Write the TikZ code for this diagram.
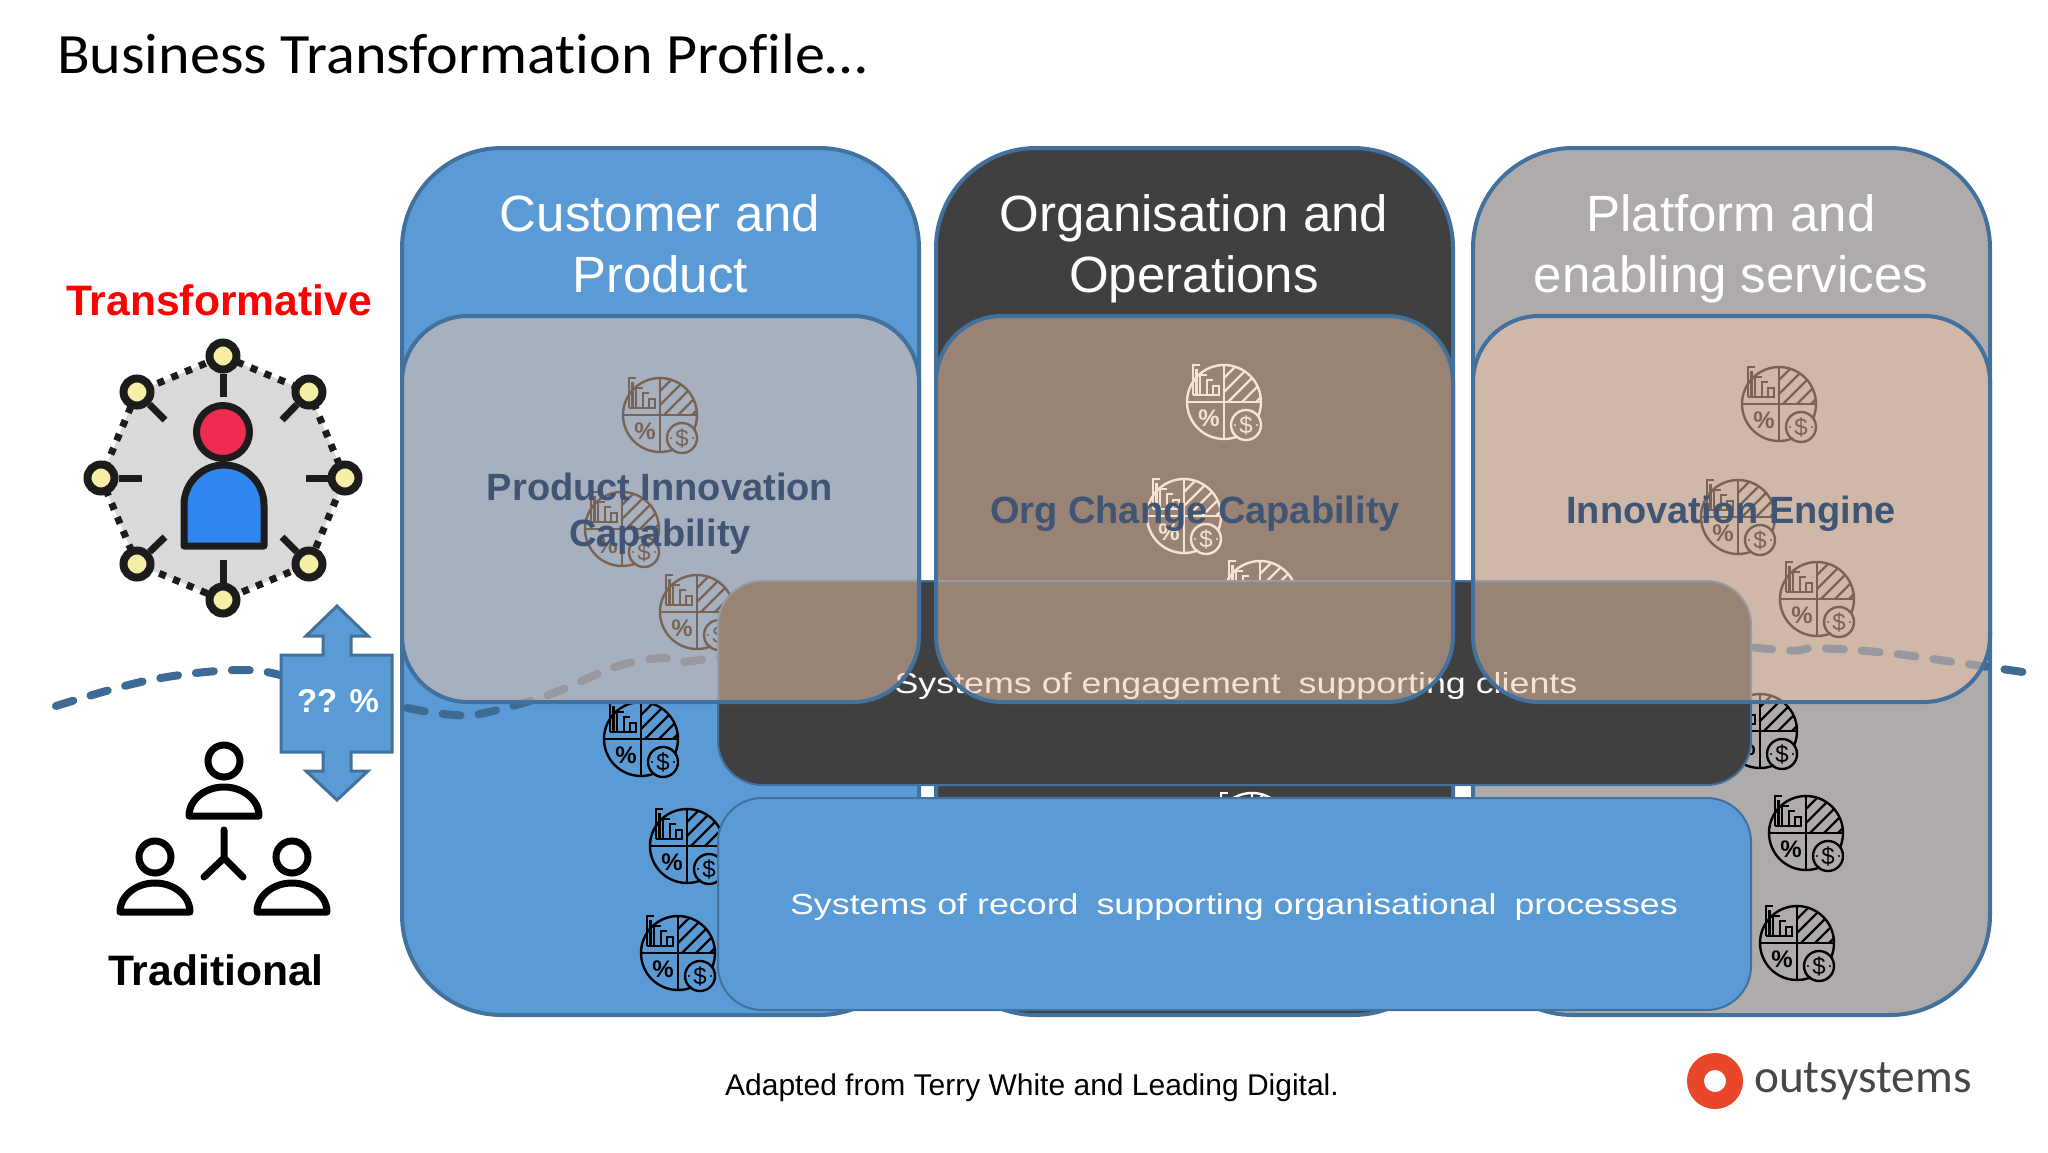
\documentclass[tikz,border=0pt]{standalone}
\usepackage{fontspec}
\setmainfont{Liberation Sans}
\newfontfamily\carlitofont[Ligatures=NoCommon]{Carlito}
\definecolor{colblue}{HTML}{5B9BD5}
\definecolor{coldark}{HTML}{404040}
\definecolor{colgrey}{HTML}{AFABAB}
\definecolor{edgeblue}{HTML}{41719C}
\definecolor{peach}{HTML}{F2C6A8}
\definecolor{labelblue}{HTML}{3F5573}
\definecolor{inkblack}{HTML}{1C1C1C}
\definecolor{hubgrey}{HTML}{DAD8DA}
\definecolor{satyellow}{HTML}{F5EFA5}
\definecolor{headred}{HTML}{EE2B50}
\definecolor{bodyblue}{HTML}{2E86EE}
\definecolor{logored}{HTML}{E8472A}
\tikzset{
  colbox/.style={shape=rectangle, rounded corners=100pt, draw=edgeblue, line width=4pt, inner sep=0pt, minimum width=517pt, minimum height=867pt},
  topbox/.style={shape=rectangle, rounded corners=66pt, draw=edgeblue, line width=4pt, fill=peach, fill opacity=0.5, inner sep=0pt, minimum width=517pt, minimum height=386pt},
  toplabel/.style={align=center, text=labelblue, font=\fontsize{38}{46}\selectfont\bfseries},
  midbox/.style={shape=rectangle, rounded corners=44pt, draw=edgeblue, line width=2pt, inner sep=0pt, minimum width=1033pt},
  midlabel/.style={text=white, font=\fontsize{29}{35}\selectfont},
  coltitle/.style={align=center, text=white, font=\fontsize{51}{61}\selectfont},
  sidetitle/.style={font=\fontsize{42.6}{50}\selectfont\bfseries},
  sat/.style={shape=circle, draw=inkblack, line width=8pt, fill=satyellow, minimum size=27pt, inner sep=0pt},
  spoke/.style={draw=inkblack, line width=7pt},
  wave/.style={draw=edgeblue!95!black, line width=8pt, line cap=round, dash pattern=on 18pt off 18pt},
  pics/budget/.style={code={
    \draw[#1, line width=2.4pt] (68:37) arc (68:382:37);
    \draw[#1, line width=2.4pt] (-37,0) -- (37,0) (0,-37) -- (0,37);
    \draw[#1, line width=2.4pt] (22,23) circle (15);
    \begin{scope}
      \clip (0,0) -- (37,0) arc (360:270:37) -- cycle;
      \draw[#1, line width=2.2pt] (-2,-8) -- +(40,-40) (-2,6) -- +(40,-40) (-2,-22) -- +(40,-40) (12,6) -- +(40,-40) (26,6) -- +(40,-40);
    \end{scope}
    \draw[#1, line width=2.4pt] (-31,-7) -- (-5,-7) -- (-5,-16) -- (-11,-16) -- (-11,-7) (-11,-22) -- (-17,-22) -- (-17,-7) (-17,-27) -- (-24,-27) -- (-24,-7) (-24,-37) -- (-31,-37) -- (-31,-7) (-27.5,-7) -- (-27.5,-33);
    \node[text=#1, font=\fontsize{24}{24}\selectfont\bfseries, inner sep=0pt] (pct) at (-15,16) {\%};
    \node[text=#1, font=\fontsize{24}{24}\selectfont, inner sep=0pt] (dollar) at (22,23) {\$};
    \fill[#1] (11,23) circle (1.2) (33,23) circle (1.2);
  }},
  pics/member/.style={code={
    \draw[line width=7pt] (0,0) circle (16);
    \draw[line width=7pt, line join=round] (-35,55) arc (180:360:35 and 29) -- cycle;
  }}
}
\begin{document}
\begin{tikzpicture}[x=1pt, y=-1pt]
\useasboundingbox (0,0) rectangle (2048,1152);
\node[colbox, fill=colblue] (custcol) at (660.5,581.5) {};
\node[colbox, fill=coldark] (orgcol) at (1194.5,581.5) {};
\node[colbox, fill=colgrey] (platcol) at (1731.5,581.5) {};
\node[coltitle] (custtitle) at (660,244) {Customer and\\Product};
\node[coltitle] (orgtitle) at (1194,249) {Organisation and\\Operations};
\node[coltitle] (plattitle) at (1731,249) {Platform and\\enabling services};
\pic (custA) at (660,415) {budget=black};
\pic (custB) at (622,529) {budget=black};
\pic (custC) at (697,612) {budget=black};
\pic (custD) at (641,739) {budget=black};
\pic (custE) at (687,846) {budget=black};
\pic (custF) at (678,953) {budget=black};
\pic (orgA) at (1224,402) {budget=white};
\pic (orgB) at (1184,516) {budget=white};
\pic (orgC) at (1260,598) {budget=white};
\pic (orgD) at (1252,830) {budget=white};
\pic (platA) at (1779,404) {budget=black};
\pic (platB) at (1738,517) {budget=black};
\pic (platC) at (1817,599) {budget=black};
\pic (platD) at (1760,731) {budget=black};
\pic (platE) at (1806,833) {budget=black};
\pic (platF) at (1797,943) {budget=black};
\draw[wave] plot[smooth, tension=0.6] coordinates {(56,706) (150,680) (242,670) (300,680) (393,705) (455,715) (489,712) (551,694) (615,667) (661,658) (712,658) (1000,600) (1400,600) (1750,647) (1817,648) (1888,653) (1960,663) (2030,673)};
\node[midbox, fill=coldark, minimum height=204pt] (engage) at (1234.5,683) {};
\node[midlabel] (engagetext) at (1236,686) {\scalebox{1.235}[1]{Systems of engagement\enspace supporting clients}};
\node[midbox, fill=colblue, minimum height=212pt] (record) at (1234.5,904) {};
\node[midlabel] (recordtext) at (1234,907) {\scalebox{1.235}[1]{Systems of record\enspace supporting organisational\enspace processes}};
\node[topbox] (prodbox) at (660.5,509) {};
\node[topbox] (changebox) at (1194.5,509) {};
\node[topbox] (enginebox) at (1731.5,509) {};
\node[toplabel] (prodtext) at (660,514) {Product Innovation\\Capability};
\node[toplabel] (changetext) at (1195,514) {Org Change Capability};
\node[toplabel] (enginetext) at (1731,514) {Innovation Engine};
\node[font=\carlitofont\fontsize{57}{70}\selectfont, anchor=west, inner sep=0pt] (heading) at (57,54) {\scalebox{1.055}[1]{Business Transformation Profile…}};
\node[sidetitle, text=red] (transform) at (219,300) {Transformative};
\node[sidetitle, text=black] (tradition) at (216,970) {Traditional};
\fill[hubgrey] (223,356) -- (309,392) -- (345,478) -- (309,564) -- (223,600) -- (137,564) -- (101,478) -- (137,392) -- cycle;
\draw[draw=inkblack, line width=7pt, dash pattern=on 7pt off 8pt] (223,356) -- (309,392) -- (345,478) -- (309,564) -- (223,600) -- (137,564) -- (101,478) -- (137,392) -- cycle;
\node[sat] (satN) at (223,356) {};
\node[sat] (satNE) at (309,392) {};
\node[sat] (satE) at (345,478) {};
\node[sat] (satSE) at (309,564) {};
\node[sat] (satS) at (223,600) {};
\node[sat] (satSW) at (137,564) {};
\node[sat] (satW) at (101,478) {};
\node[sat] (satNW) at (137,392) {};
\coordinate (endN) at (223,397);
\coordinate (endNE) at (282,420);
\coordinate (endE) at (306,478);
\coordinate (endSE) at (282,537);
\coordinate (endS) at (223,560);
\coordinate (endSW) at (165,537);
\coordinate (endW) at (142,478);
\coordinate (endNW) at (165,420);
\path[spoke] (satN) edge (endN);
\path[spoke] (satNE) edge (endNE);
\path[spoke] (satE) edge (endE);
\path[spoke] (satSE) edge (endSE);
\path[spoke] (satS) edge (endS);
\path[spoke] (satSW) edge (endSW);
\path[spoke] (satW) edge (endW);
\path[spoke] (satNW) edge (endNW);
\node[shape=circle, draw=inkblack, line width=7pt, fill=headred, minimum size=53pt, inner sep=0pt] (head) at (223,432) {};
\draw[draw=inkblack, line width=7pt, line join=round, fill=bodyblue] (184,546) -- (184,505) arc (180:360:40) -- (264,546) -- cycle;
\pic (leader) at (224,761) {member};
\pic (leftmember) at (155,857) {member};
\pic (rightmember) at (292,857) {member};
\draw[line width=7pt, line cap=round, line join=round] (224,830) -- (224,858) -- (204,877) (224,858) -- (243,877);
\draw[draw=edgeblue, line width=3pt, fill=colblue] (337,606) -- (368,636) -- (351,636) -- (351,655) -- (392,655) -- (392,752) -- (351,752) -- (351,771) -- (368,771) -- (337,800) -- (306,771) -- (323,771) -- (323,752) -- (281,752) -- (281,655) -- (323,655) -- (323,636) -- (306,636) -- cycle;
\node[text=white, font=\fontsize{33}{33}\selectfont\bfseries] (share) at (338,701) {?? \%};
\node[font=\fontsize{30}{36}\selectfont] (source) at (1032,1088) {Adapted from Terry White and Leading Digital.};
\node[shape=circle, draw=logored, line width=17pt, minimum size=39pt, inner sep=0pt] (logo) at (1715,1081) {};
\node[font=\carlitofont\fontsize{47.3}{47}\selectfont, text=black!72, anchor=west, inner sep=0pt] (brand) at (1754,1081) {outsystems};
\end{tikzpicture}
\end{document}
